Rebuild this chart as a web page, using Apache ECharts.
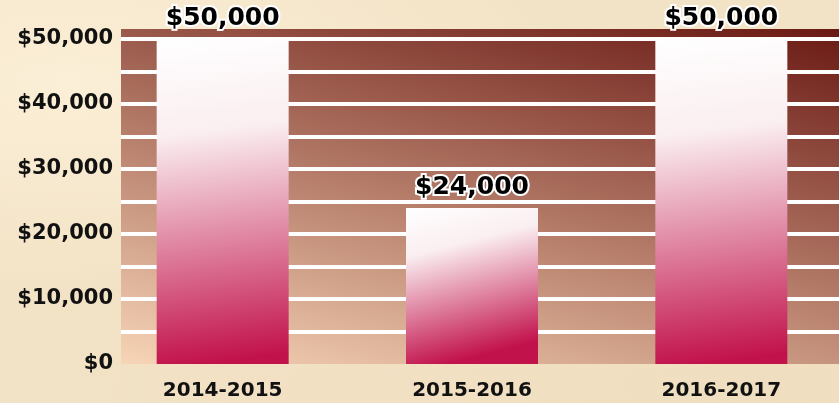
<!DOCTYPE html>
<html>
<head>
<meta charset="utf-8">
<script src="https://cdn.jsdelivr.net/npm/echarts@6/dist/echarts.min.js"></script>
<style>
  html, body { margin: 0; padding: 0; }
  body {
    width: 839px; height: 403px; overflow: hidden;
    background-color: #f3e3c6;
    background-image:
      radial-gradient(ellipse at 8% 20%, rgba(255,244,222,0.7), rgba(255,244,222,0) 45%),
      radial-gradient(ellipse at 90% 95%, rgba(236,218,186,0.6), rgba(236,218,186,0) 40%),
      radial-gradient(ellipse at 40% 100%, rgba(240,222,192,0.6), rgba(240,222,192,0) 50%);
  }
  /* canvas runs a little past the right edge so the panel bleeds off the page */
  #chart { width: 860px; height: 403px; }
</style>
</head>
<body>
<div id="chart"></div>
<script>
// Annual amounts per fiscal year
const years = ['2014-2015', '2015-2016', '2016-2017'];
const amounts = [50000, 24000, 50000];
const yTickLabels = ['$0', '$10,000', '$20,000', '$30,000', '$40,000', '$50,000'];

const AXIS_MAX = 51500;
const FONT = '"DejaVu Sans", sans-serif';

const chart = echarts.init(document.getElementById('chart'), null, { renderer: 'canvas' });

const plotTop = 29, plotBottom = 39;

chart.setOption({
  animation: false,
  backgroundColor: 'transparent',
  grid: [
    // Plot panel: shaded backdrop with white stripes
    {
      left: 121, right: 21, top: plotTop, bottom: plotBottom,
      show: true, borderWidth: 0,
      backgroundColor: {
        type: 'linear', x: 0, y: 1, x2: 0.162, y2: -0.433,
        colorStops: [
          { offset: 0, color: '#f7d5b7' },
          { offset: 0.5, color: '#b07664' },
          { offset: 1, color: '#6a1a14' }
        ]
      }
    },
    // Bars
    { left: 98, width: 748, top: plotTop, bottom: plotBottom }
  ],
  xAxis: [
    { gridIndex: 0, type: 'value', show: false, min: 0, max: 1 },
    {
      gridIndex: 1, type: 'category', data: years,
      axisLine: { show: false }, axisTick: { show: false },
      axisLabel: { margin: 17, color: '#111', fontFamily: FONT, fontWeight: 'bold', fontSize: 20 }
    }
  ],
  yAxis: [
    {
      gridIndex: 0, type: 'value', min: 0, max: AXIS_MAX, interval: 5000,
      axisLine: { show: false }, axisTick: { show: false },
      splitLine: { show: true, showMinLine: false, showMaxLine: false, lineStyle: { color: '#ffffff', width: 4 } },
      axisLabel: {
        margin: 8, color: '#111', fontFamily: FONT, fontWeight: 'bold', fontSize: 21,
        showMaxLabel: false,
        formatter: function (v) {
          if (v % 10000 !== 0) return '';
          const i = v / 10000;
          return i < yTickLabels.length ? yTickLabels[i] : '';
        }
      }
    },
    { gridIndex: 1, type: 'value', min: 0, max: AXIS_MAX, show: false, splitLine: { show: false } }
  ],
  series: [{
    type: 'bar',
    xAxisIndex: 1, yAxisIndex: 1,
    data: amounts,
    barWidth: 132,
    itemStyle: {
      color: {
        type: 'linear', x: 0, y: 0, x2: 0.3, y2: 1,
        colorStops: [
          { offset: 0, color: '#ffffff' },
          { offset: 0.3, color: '#faeef0' },
          { offset: 1, color: '#c2124c' }
        ]
      }
    },
    label: {
      show: true, position: 'top', distance: 8,
      fontFamily: FONT, fontWeight: 'bold', fontSize: 25, color: '#000',
      textBorderColor: '#ffffff', textBorderWidth: 4,
      formatter: function (p) { return '$' + p.value.toLocaleString('en-US'); }
    }
  }]
});
</script>
</body>
</html>
